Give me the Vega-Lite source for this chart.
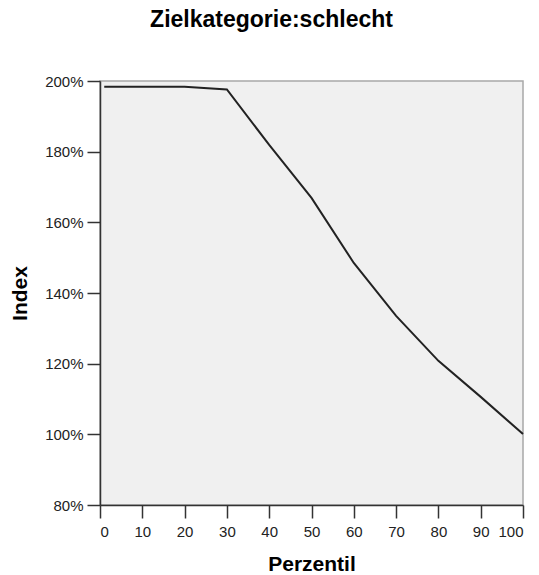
{
  "$schema": "https://vega.github.io/schema/vega-lite/v6.json",
  "autosize": "none",
  "width": 423,
  "height": 424,
  "padding": {"left": 100, "top": 81, "right": 16, "bottom": 70},
  "background": "white",
  "title": {
    "text": "Zielkategorie:schlecht",
    "font": "Liberation Sans",
    "fontSize": 23,
    "fontWeight": "bold",
    "color": "#000000",
    "anchor": "middle",
    "dx": -40,
    "offset": 42
  },
  "config": {
    "view": {"fill": "#f0f0f0", "stroke": "#a8a8a8", "strokeWidth": 1.5},
    "axis": {
      "labelFont": "Liberation Sans",
      "labelFontSize": 15,
      "labelColor": "#222222",
      "titleFont": "Liberation Sans",
      "titleFontSize": 21,
      "titleFontWeight": "bold",
      "titleColor": "#000000",
      "domainColor": "#333333",
      "domainWidth": 1.5,
      "tickColor": "#333333",
      "tickWidth": 1.5,
      "tickSize": 13,
      "grid": false
    }
  },
  "data": {
    "values": [
      {"p": 1, "v": 1.984},
      {"p": 10, "v": 1.984},
      {"p": 20, "v": 1.984},
      {"p": 30, "v": 1.976},
      {"p": 40, "v": 1.819},
      {"p": 50, "v": 1.669},
      {"p": 60, "v": 1.485},
      {"p": 70, "v": 1.335},
      {"p": 80, "v": 1.208},
      {"p": 90, "v": 1.106},
      {"p": 100, "v": 1.001}
    ]
  },
  "mark": {"type": "line", "color": "#222222", "strokeWidth": 2},
  "encoding": {
    "x": {
      "field": "p",
      "type": "quantitative",
      "scale": {"domain": [0, 100], "nice": false},
      "axis": {"title": "Perzentil", "values": [0,10,20,30,40,50,60,70,80,90,100], "titlePadding": 14, "labelPadding": 6}
    },
    "y": {
      "field": "v",
      "type": "quantitative",
      "scale": {"domain": [0.8, 2.0], "nice": false, "zero": false},
      "axis": {"title": "Index", "values": [0.8,1.0,1.2,1.4,1.6,1.8,2.0], "format": ".0%", "titlePadding": 14, "labelPadding": 4}
    }
  }
}
